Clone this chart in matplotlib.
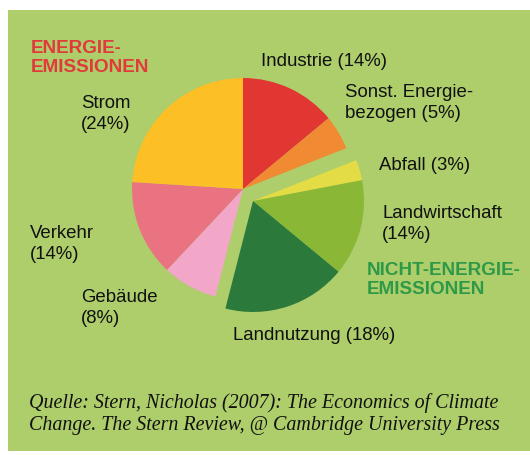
import matplotlib
matplotlib.use("Agg")
import matplotlib.pyplot as plt
from matplotlib.patches import Rectangle

# ---- data ----
sectors = ["Industrie", "Sonst. Energie-\nbezogen", "Abfall", "Landwirtschaft",
           "Landnutzung", "Gebäude", "Verkehr", "Strom"]
shares = [14, 5, 3, 14, 18, 8, 14, 24]
groups = ["E", "E", "N", "N", "N", "E", "E", "E"]   # E = Energie, N = Nicht-Energie
label_sep = [" ", " ", " ", "\n", " ", "\n", "\n", "\n"]
colors = ["#e13632", "#f08a33", "#e3dc45", "#8ab736",
          "#2b7a3c", "#f2a7c9", "#e97381", "#fcbf26"]
group_titles = ["ENERGIE-\nEMISSIONEN", "NICHT-ENERGIE-\nEMISSIONEN"]
source = ("Quelle: Stern, Nicholas (2007): The Economics of Climate\n"
          "Change. The Stern Review, @ Cambridge University Press")

# ---- layout (pixel coordinates, y from top) ----
W, H = 530, 456
BG = "#aecd6b"
center_E = (243, 190)
center_N = (253, 202)
radius = 111
label_pos = [(261, 61), (345, 103), (379, 165), (382, 224),
             (233, 335), (81, 308), (30, 244), (81, 114)]
title_pos = [(31, 58, "#e03a3a"), (367, 280, "#2e9a48")]

fig = plt.figure(figsize=(W / 100, H / 100), dpi=100, facecolor="white")
ax = fig.add_axes([0, 0, 1, 1])
ax.add_patch(Rectangle((8, H - 452), W - 8, 441, facecolor=BG, edgecolor="none", zorder=0))

colsE = [c if g == "E" else "none" for c, g in zip(colors, groups)]
colsN = [c if g == "N" else "none" for c, g in zip(colors, groups)]
for cols, cen in ((colsE, center_E), (colsN, center_N)):
    ax.pie(shares, colors=cols, startangle=90, counterclock=False,
           center=(cen[0], H - cen[1]), radius=radius,
           wedgeprops=dict(linewidth=0))

ax.set_xlim(0, W)
ax.set_ylim(0, H)
ax.set_aspect("equal")
ax.axis("off")

fam = ["Liberation Sans", "DejaVu Sans"]
for name, sep, val, (x, y) in zip(sectors, label_sep, shares, label_pos):
    ax.text(x, H - y, f"{name}{sep}({val}%)", ha="left", va="center",
            fontsize=13.4, family=fam, color="#111111", linespacing=1.3)

for t, (x, y, c) in zip(group_titles, title_pos):
    ax.text(x, H - y, t, ha="left", va="center", fontsize=13.6, fontweight="bold",
            family=fam, color=c, linespacing=1.2)

ax.text(29, H - 414, source, ha="left", va="center", fontsize=14.4, style="italic",
        family=["Liberation Serif", "DejaVu Serif"], color="#111111", linespacing=1.25)

fig.savefig("out.png", dpi=100, facecolor="white")
